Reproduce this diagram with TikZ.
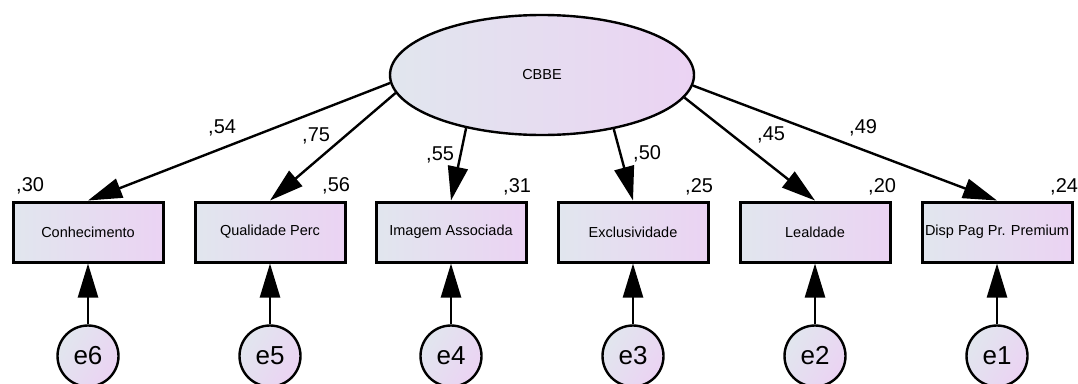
\documentclass[tikz,border=0pt]{standalone}
\usepackage{fontspec}
\setmainfont{Liberation Sans}
\usetikzlibrary{arrows.meta,shapes.geometric}
\definecolor{gl}{HTML}{E1E6EE}
\definecolor{gr}{HTML}{EBD3F3}
\tikzset{
  obs/.style={draw=black, line width=3pt, minimum width=150pt, minimum height=60pt, inner sep=0pt,
    left color=gl, right color=gr, font=\fontsize{14.5}{17}\selectfont},
  lat/.style={ellipse, draw=black, line width=2.4pt, minimum width=304pt, minimum height=120pt, inner sep=0pt,
    left color=gl, right color=gr, font=\fontsize{14.5}{17}\selectfont},
  err/.style={circle, draw=black, line width=2.4pt, minimum size=61pt, inner sep=0pt,
    left color=gl, right color=gr, shading angle=60, font=\fontsize{26}{29}\selectfont},
  conn/.style={line width=2.4pt, -{Triangle[length=34pt, width=20pt]}},
  lbl/.style={anchor=base west, inner sep=0pt, font=\fontsize{20}{22}\selectfont},
}
\begin{document}
\begin{tikzpicture}[x=1pt, y=-1pt]
\path[use as bounding box, clip] (0,0) rectangle (1078,383);
\node[lat] (cbbe) at (542,75) {CBBE};
\node[obs] (b1) at (88,232) {Conhecimento};
\node[obs] (b2) at (270,232) {Qualidade Perc};
\node[obs] (b3) at (451,232) {Imagem Associada};
\node[obs] (b4) at (633,232) {Exclusividade};
\node[obs] (b5) at (815,232) {Lealdade};
\node[obs] (b6) at (997,232) {Disp Pag Pr. Premium};
\node[err] (e6) at (88,356) {e6};
\node[err] (e5) at (270,356) {e5};
\node[err] (e4) at (451,356) {e4};
\node[err] (e3) at (633,356) {e3};
\node[err] (e2) at (815,356) {e2};
\node[err] (e1) at (997,356) {e1};
\draw[conn] (cbbe.183.7) -- (b1.north);
\draw[conn] (cbbe.187.8) -- (b2.north);
\draw[conn] (cbbe.215.2) -- (b3.north);
\draw[conn] (cbbe.323.7) -- (b4.north);
\draw[conn] (cbbe.351.9) -- (b5.north);
\draw[conn] (cbbe.356.3) -- (b6.north);
\draw[conn] (e6) -- (b1);
\draw[conn] (e5) -- (b2);
\draw[conn] (e4) -- (b3);
\draw[conn] (e3) -- (b4);
\draw[conn] (e2) -- (b5);
\draw[conn] (e1) -- (b6);
\node[lbl] (l1) at (208,133) {,54};
\node[lbl] (l2) at (302,141) {,75};
\node[lbl] (l3) at (426,160) {,55};
\node[lbl] (l4) at (633,159) {,50};
\node[lbl] (l5) at (757,140) {,45};
\node[lbl] (l6) at (849,133) {,49};
\node[lbl] (v1) at (16,191) {,30};
\node[lbl] (v2) at (322,191) {,56};
\node[lbl] (v3) at (503,192) {,31};
\node[lbl] (v4) at (685,192) {,25};
\node[lbl] (v5) at (868,192) {,20};
\node[lbl] (v6) at (1050,192) {,24};
\end{tikzpicture}
\end{document}
